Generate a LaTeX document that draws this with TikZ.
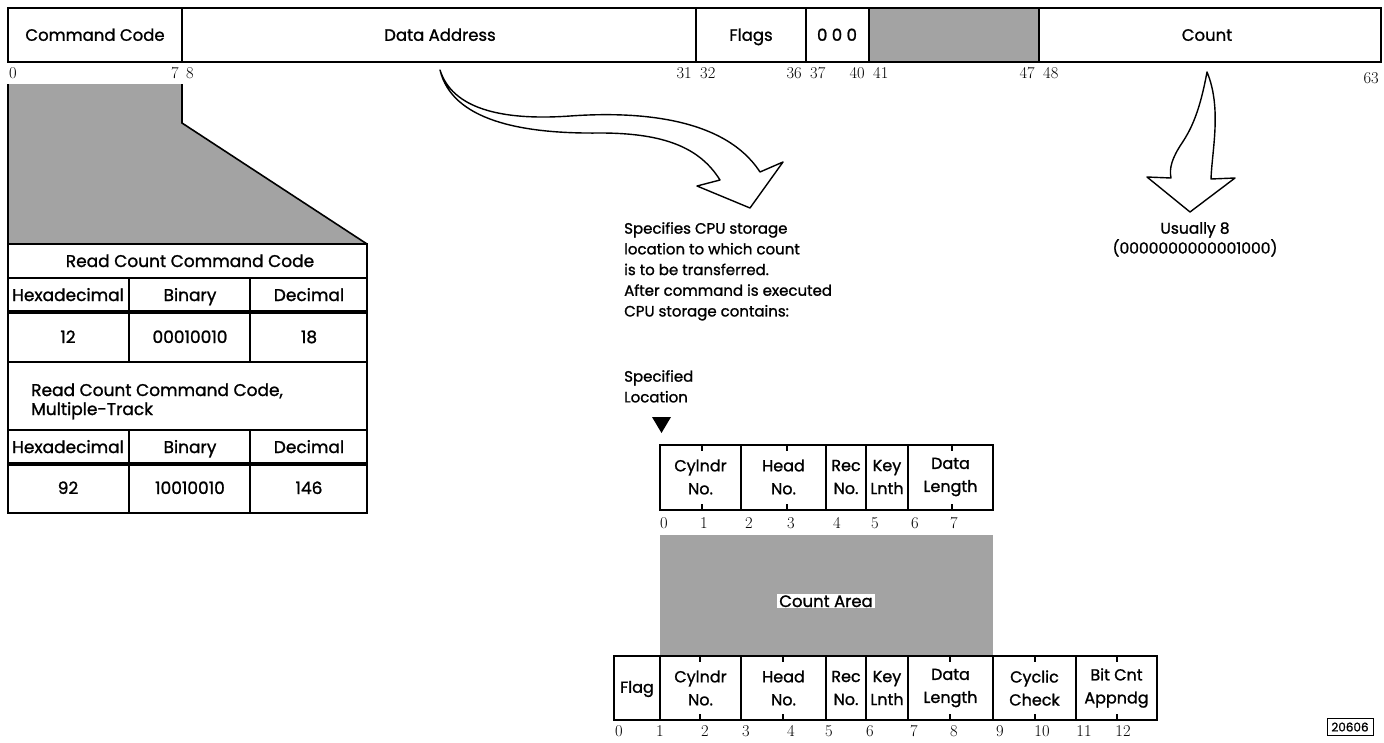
\documentclass[tikz,border=0pt]{standalone}
\usepackage{fontspec}
\newfontfamily\ff[FakeBold=1.2]{Poppins}
\begin{document}
\begin{tikzpicture}[x=1pt,y=-1pt,
  lab/.style={font=\ff\fontsize{16.5}{20}\selectfont, inner sep=0pt, anchor=base, yshift=-5.8pt},
  tab/.style={font=\ff\fontsize{17}{20}\selectfont, inner sep=0pt, anchor=base, yshift=-6pt},
  fld/.style={font=\ff\fontsize{16}{23}\selectfont, inner sep=0pt, align=center},
  txt/.style={font=\ff\fontsize{15}{20.7}\selectfont, inner sep=0pt, align=left},
  num/.style={font=\fontsize{16.5}{18}\selectfont, inner sep=0pt, anchor=base, yshift=-5pt},
  bx/.style={draw, line width=1.6pt},
  thick rule/.style={line width=3.5pt},
  shade/.style={fill=black!36},
  fatarrow/.style={draw, fill=white, line width=1.4pt, line join=round},
]
\useasboundingbox (0,0) rectangle (1384,742);

% ---------- top command word ----------
\fill[shade] (869,8) rectangle (1039,62);
\draw[bx] (8,8) rectangle (1381,62);
\foreach \x in {182,696,806,869,1039} \draw[bx] (\x,8) -- (\x,62);
\node[lab] (cc) at (95,35) {Command Code};
\node[lab] (da) at (440,35) {Data Address};
\node[lab] (fl) at (751,35) {Flags};
\node[lab] (zz) at (837,35) {0 0 0};
\node[lab] (ct) at (1207,35) {Count};

\node[num,anchor=base west] (b0) at (9,73) {0};
\node[num,anchor=base east] (b7) at (179,73) {7};
\node[num,anchor=base west] (b8) at (186,73) {8};
\node[num,anchor=base east] (b31) at (692,73) {31};
\node[num,anchor=base west] (b32) at (700,73) {32};
\node[num,anchor=base east] (b36) at (802,73) {36};
\node[num,anchor=base west] (b37) at (810,73) {37};
\node[num,anchor=base east] (b40) at (865,73) {40};
\node[num,anchor=base west] (b41) at (873,73) {41};
\node[num,anchor=base east] (b47) at (1035,73) {47};
\node[num,anchor=base west] (b48) at (1043,73) {48};
\node[num,anchor=base east] (b63) at (1379,78) {63};

% ---------- expansion of command code ----------
\fill[shade] (8,84) -- (182,84) -- (182,123) -- (367,244) -- (8,244) -- cycle;
\draw[bx] (8,84) -- (8,244);
\draw[bx] (182,84) -- (182,123) -- (367,244);

% ---------- table ----------
\draw[bx] (8,244) rectangle (367,513);
\draw[bx] (8,278) -- (367,278);
\draw[thick rule] (8,312) -- (367,312);
\draw[bx] (8,362) -- (367,362);
\draw[bx] (8,430) -- (367,430);
\draw[thick rule] (8,464) -- (367,464);
\foreach \x in {129,250} {
  \draw[bx] (\x,278) -- (\x,362);
  \draw[bx] (\x,430) -- (\x,513);
}
\node[tab] (t1) at (190,261) {Read Count Command Code};
\node[tab] (h1) at (68,295) {Hexadecimal};
\node[tab] (h2) at (190,295) {Binary};
\node[tab] (h3) at (309,295) {Decimal};
\node[tab] (v1) at (68,337) {12};
\node[tab] (v2) at (190,337) {00010010};
\node[tab] (v3) at (309,337) {18};
\node[tab,anchor=base west] (t2a) at (31,390) {Read Count Command Code,};
\node[tab,anchor=base west] (t2b) at (31,409) {Multiple-Track};
\node[tab] (g1) at (68,447) {Hexadecimal};
\node[tab] (g2) at (190,447) {Binary};
\node[tab] (g3) at (309,447) {Decimal};
\node[tab] (w1) at (68,488) {92};
\node[tab] (w2) at (190,488) {10010010};
\node[tab] (w3) at (309,488) {146};

% ---------- data address arrow ----------
\draw[fatarrow] (440,70) .. controls (452,108) and (500,121) .. (570,116)
  .. controls (640,111) and (725,118) .. (760,172)
  -- (783,162) -- (750,208) -- (697,186) -- (720,180)
  .. controls (700,148) and (665,133) .. (600,133)
  .. controls (520,134) and (452,120) .. cycle;

\node[txt,anchor=north west] (spec) at (624,222)
  {Specifies CPU storage\\location to which count\\is to be transferred.\\After command is executed\\CPU storage contains:};

% ---------- count arrow ----------
\draw[fatarrow] (1207,72) .. controls (1200,110) and (1192,128) .. (1182,143)
  .. controls (1172,158) and (1169,168) .. (1171,178)
  -- (1147,177) -- (1190,212) -- (1235,178) -- (1211,179)
  .. controls (1212,150) and (1222,108) .. cycle;
\node[txt,align=center,anchor=north,font=\ff\fontsize{15.5}{20}\selectfont] (us) at (1195,222) {Usually 8\\(0000000000001000)};

% ---------- specified location ----------
\node[txt,anchor=north west] (sl) at (624,370) {Specified\\Location};
\fill (652,417) -- (671,417) -- (661.5,433) -- cycle;

% ---------- upper record ----------
\draw[bx] (660,445) rectangle (993,510);
\foreach \x in {741,826,866,908} \draw[bx] (\x,445) -- (\x,510);
\foreach \x in {702,787,952} {
  \draw[line width=1.2pt] (\x,445) -- (\x,451);
  \draw[line width=1.2pt] (\x,504) -- (\x,510);
}
\node[fld] (u1) at (700.5,477) {Cylndr\\No.};
\node[fld] (u2) at (783.5,477) {Head\\No.};
\node[fld] (u3) at (846,477) {Rec\\No.};
\node[fld] (u4) at (887,477) {Key\\Lnth};
\node[fld] (u5) at (950.5,477) {Data\\Length};
\foreach \t/\x in {0/664,1/704,2/749,3/791,4/837,5/875,6/915,7/954}
  \node[num] (ua\t) at (\x,523) {\t};

% ---------- count area ----------
\fill[shade] (660,535) rectangle (993,656);
\node[font=\ff\fontsize{16.5}{20}\selectfont, fill=white, inner xsep=2pt, inner ysep=1pt, anchor=base] (ca) at (826,607) {Count Area};

% ---------- lower record ----------
\draw[bx] (614,656) rectangle (1157,720);
\foreach \x in {660,741,826,866,908,993,1076} \draw[bx] (\x,656) -- (\x,720);
\foreach \x in {700,783,950,1035,1117} {
  \draw[line width=1.2pt] (\x,656) -- (\x,662);
  \draw[line width=1.2pt] (\x,714) -- (\x,720);
}
\node[fld] (l0) at (637,689) {Flag};
\node[fld] (l1) at (700.5,688) {Cylndr\\No.};
\node[fld] (l2) at (783.5,688) {Head\\No.};
\node[fld] (l3) at (846,688) {Rec\\No.};
\node[fld] (l4) at (887,688) {Key\\Lnth};
\node[fld] (l5) at (950.5,688) {Data\\Length};
\node[fld] (l6) at (1034.5,688) {Cyclic\\Check};
\node[fld] (l7) at (1116.5,688) {Bit Cnt\\Appndg};
\foreach \t/\x in {0/619,1/660,2/705,3/746,4/791,5/829,6/870,7/914,8/954,9/1000,10/1042,11/1084,12/1123}
  \node[num] (la\t) at (\x,731) {\t};

% ---------- figure number ----------
\node[draw, line width=1pt, font=\ff\fontsize{12}{14}\selectfont, inner sep=2pt, minimum width=46pt, minimum height=17pt] (fig) at (1350,727) {20606};
\end{tikzpicture}
\end{document}
